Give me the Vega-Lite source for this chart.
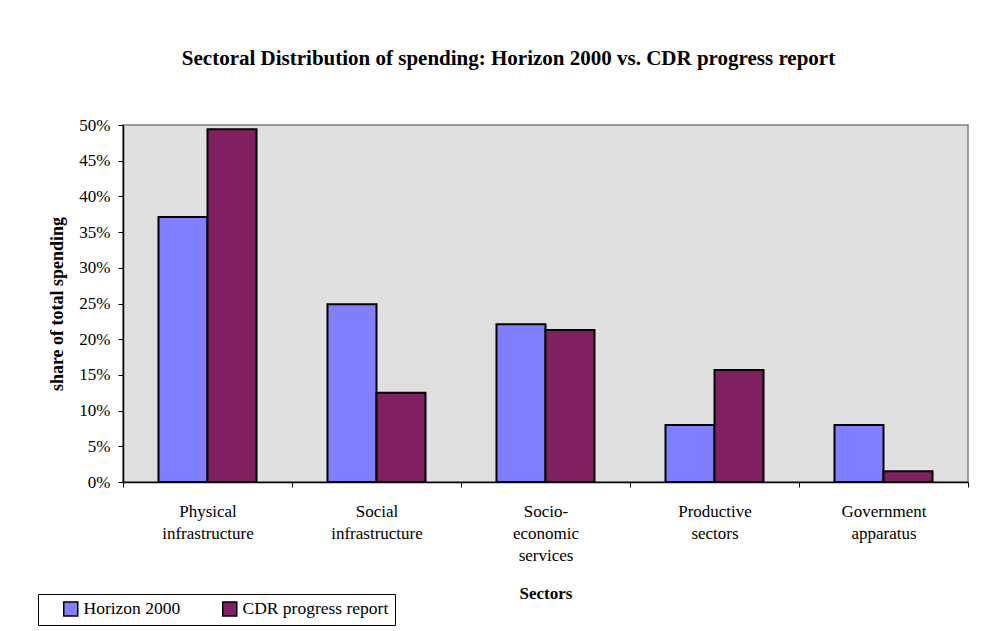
{
  "$schema": "https://vega.github.io/schema/vega-lite/v6.json",
  "autosize": "none",
  "width": 845,
  "height": 357,
  "padding": {"left": 123, "top": 125, "right": 20, "bottom": 149},
  "background": "white",
  "title": {
    "text": "Sectoral Distribution of spending: Horizon 2000 vs. CDR progress report",
    "font": "Liberation Serif",
    "fontSize": 21,
    "fontWeight": "bold",
    "color": "black",
    "anchor": "middle",
    "dx": -37,
    "offset": 47
  },
  "data": {
    "values": [
      {"sector": "Physical infrastructure", "series": "Horizon 2000", "share": 0.371},
      {"sector": "Physical infrastructure", "series": "CDR progress report", "share": 0.494},
      {"sector": "Social infrastructure", "series": "Horizon 2000", "share": 0.249},
      {"sector": "Social infrastructure", "series": "CDR progress report", "share": 0.125},
      {"sector": "Socio-economic services", "series": "Horizon 2000", "share": 0.221},
      {"sector": "Socio-economic services", "series": "CDR progress report", "share": 0.213},
      {"sector": "Productive sectors", "series": "Horizon 2000", "share": 0.080},
      {"sector": "Productive sectors", "series": "CDR progress report", "share": 0.157},
      {"sector": "Government apparatus", "series": "Horizon 2000", "share": 0.080},
      {"sector": "Government apparatus", "series": "CDR progress report", "share": 0.015}
    ]
  },
  "mark": {"type": "bar", "stroke": "black", "strokeWidth": 2},
  "encoding": {
    "x": {
      "field": "sector",
      "type": "nominal",
      "sort": null,
      "scale": {"paddingInner": 0, "paddingOuter": 0},
      "axis": {
        "title": "Sectors",
        "titleFont": "Liberation Serif",
        "titleFontSize": 17,
        "titleFontWeight": "bold",
        "titleColor": "black",
        "titlePadding": 22,
        "labelFont": "Liberation Serif",
        "labelFontSize": 17,
        "labelColor": "black",
        "labelAngle": 0,
        "labelPadding": 16,
        "labelLineHeight": 22,
        "labelExpr": "datum.value == null ? '' : datum.value == 'Socio-economic services' ? ['Socio-', 'economic', 'services'] : split(datum.value, ' ')",
        "tickBand": "extent",
        "tickColor": "black",
        "tickSize": 5,
        "domainColor": "black",
        "domainWidth": 1.5
      }
    },
    "xOffset": {
      "field": "series",
      "type": "nominal",
      "sort": ["Horizon 2000", "CDR progress report"],
      "scale": {"paddingInner": 0, "paddingOuter": 0.724}
    },
    "y": {
      "field": "share",
      "type": "quantitative",
      "scale": {"domain": [0, 0.5], "nice": false},
      "axis": {
        "title": "share of total spending",
        "titleFont": "Liberation Serif",
        "titleFontSize": 18,
        "titleFontWeight": "bold",
        "titleColor": "black",
        "titlePadding": 12,
        "values": [0, 0.05, 0.1, 0.15, 0.2, 0.25, 0.3, 0.35, 0.4, 0.45, 0.5],
        "format": ".0%",
        "labelFont": "Liberation Serif",
        "labelFontSize": 17,
        "labelColor": "black",
        "labelPadding": 8,
        "grid": false,
        "tickColor": "black",
        "tickSize": 5,
        "domainColor": "black",
        "domainWidth": 1.5
      }
    },
    "fill": {
      "field": "series",
      "type": "nominal",
      "sort": ["Horizon 2000", "CDR progress report"],
      "scale": {"domain": ["Horizon 2000", "CDR progress report"], "range": ["#8080FF", "#802060"]},
      "legend": {
        "title": null,
        "orient": "none",
        "legendX": -85,
        "legendY": 469,
        "direction": "horizontal",
        "strokeColor": "black",
        "padding": 6,
        "columnPadding": 22,
        "symbolType": "square",
        "symbolSize": 196,
        "symbolOffset": 18,
        "symbolStrokeColor": "black",
        "symbolStrokeWidth": 1.5,
        "symbolOpacity": 1,
        "labelFont": "Liberation Serif",
        "labelFontSize": 17.5,
        "labelColor": "black",
        "labelOffset": 4
      }
    }
  },
  "config": {
    "view": {"fill": "#E0E0E0", "stroke": "#808080", "strokeWidth": 1.5}
  }
}
